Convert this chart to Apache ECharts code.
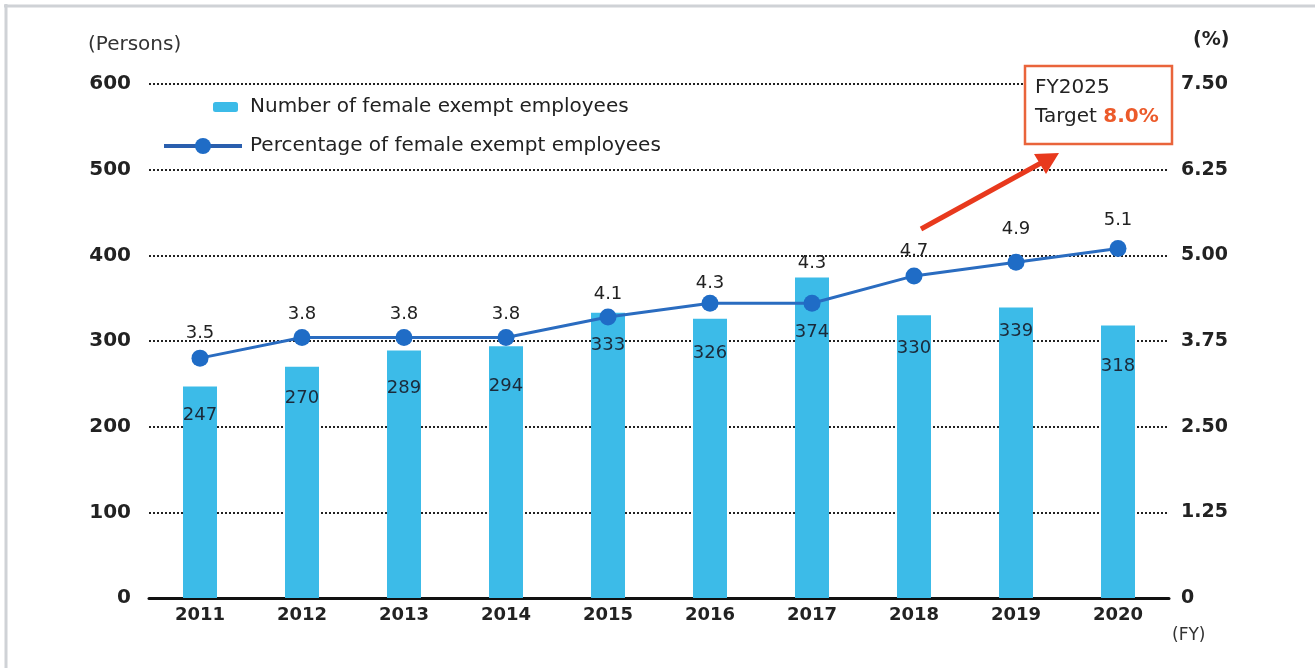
<!DOCTYPE html>
<html>
<head>
<meta charset="utf-8">
<script src="https://cdn.jsdelivr.net/npm/echarts@6/dist/echarts.min.js"></script>
<style>
  html, body { margin: 0; padding: 0; background: #fff; }
  #chart { width: 1315px; height: 668px; }
</style>
</head>
<body>
<div id="chart"></div>
<script>
var years = ["2011", "2012", "2013", "2014", "2015", "2016", "2017", "2018", "2019", "2020"];
var employees = [247, 270, 289, 294, 333, 326, 374, 330, 339, 318];
var percentage = [3.5, 3.8, 3.8, 3.8, 4.1, 4.3, 4.3, 4.7, 4.9, 5.1];
var personTicks = { min: 0, max: 600, interval: 100 };
var percentTicks = { min: 0, max: 7.5, interval: 1.25 };

// label nudges so numbers sit clear of the dotted lines (like the original)
var barLabelGap = [20, 23, 29, 31, 24, 26, 46, 24, 15, 32];
var lineLabelGap = [7, 6, 6, 6, 5, 2, 22, 7, 15, 11];

var FONT = "DejaVu Sans";
var barName = "Number of female exempt employees";
var lineName = "Percentage of female exempt employees";

var chart = echarts.init(document.getElementById("chart"));

var option = {
  backgroundColor: "#fff",
  animation: false,
  textStyle: { fontFamily: FONT },
  grid: { left: 149, right: 146, top: 84, bottom: 70 },
  legend: [
    {
      data: [barName],
      left: 213, top: 97, padding: 0,
      itemWidth: 25, itemHeight: 10,
      textStyle: { fontFamily: FONT, fontSize: 20, color: "#222", padding: [0, 0, 0, 7] }
    },
    {
      data: [lineName],
      left: 162, top: 136, padding: 0,
      itemWidth: 78, itemHeight: 20,
      lineStyle: { width: 4, color: "#2a5fae" },
      textStyle: { fontFamily: FONT, fontSize: 20, color: "#222", padding: [0, 0, 0, 3] }
    }
  ],
  xAxis: {
    type: "category",
    data: years,
    axisLine: { lineStyle: { color: "#111", width: 3 } },
    axisTick: { show: false },
    axisLabel: { fontFamily: FONT, fontWeight: "bold", fontSize: 18, color: "#222", margin: 8 }
  },
  yAxis: [
    {
      type: "value",
      min: personTicks.min, max: personTicks.max, interval: personTicks.interval,
      axisLine: { show: false },
      axisTick: { show: false },
      axisLabel: { fontFamily: FONT, fontWeight: "bold", fontSize: 20, color: "#222", margin: 18 },
      splitLine: { lineStyle: { color: "#222", width: 2, type: [2, 2] } }
    },
    {
      type: "value",
      min: percentTicks.min, max: percentTicks.max, interval: percentTicks.interval,
      axisLine: { show: false },
      axisTick: { show: false },
      splitLine: { show: false },
      axisLabel: {
        fontFamily: FONT, fontWeight: "bold", fontSize: 19, color: "#222", margin: 12,
        formatter: function (v) { return v === 0 ? "0" : v.toFixed(2); }
      }
    }
  ],
  series: [
    {
      name: barName,
      type: "bar",
      barWidth: 34,
      itemStyle: { color: "#3cbbe8" },
      data: employees.map(function (v, i) {
        return { value: v, label: { distance: barLabelGap[i] } };
      }),
      label: {
        show: true, position: "insideTop",
        fontFamily: FONT, fontSize: 18, color: "#1b2a3a"
      },
      z: 2
    },
    {
      name: lineName,
      type: "line",
      yAxisIndex: 1,
      symbol: "circle",
      symbolSize: 17,
      lineStyle: { color: "#2a6cc0", width: 3 },
      itemStyle: { color: "#1f6cc6" },
      data: percentage.map(function (v, i) {
        return { value: v, label: { distance: lineLabelGap[i] } };
      }),
      label: {
        show: true, position: "top",
        fontFamily: FONT, fontSize: 18, color: "#222",
        formatter: function (p) { return p.value.toFixed(1); }
      },
      z: 3
    }
  ],
  graphic: [
    // faint frame on top and left edge
    { type: "line", shape: { x1: 4, y1: 6, x2: 1315, y2: 6 }, style: { stroke: "#cfd2d6", lineWidth: 3 } },
    { type: "line", shape: { x1: 6, y1: 4, x2: 6, y2: 668 }, style: { stroke: "#cfd2d6", lineWidth: 3 } },
    // unit labels
    { type: "text", left: 88, top: 35, style: { text: "(Persons)", font: "20px " + FONT, fill: "#333" } },
    { type: "text", left: 1193, top: 31, style: { text: "(%)", font: "bold 19px " + FONT, fill: "#222" } },
    { type: "text", left: 1172, top: 627, style: { text: "(FY)", font: "17px " + FONT, fill: "#333" } },
    // target callout
    {
      type: "rect", z: 10,
      shape: { x: 1025, y: 66, width: 147, height: 78 },
      style: { fill: "#fff", stroke: "#e9643b", lineWidth: 2.5 }
    },
    { type: "text", z: 11, left: 1035, top: 78, style: { text: "FY2025", font: "20px " + FONT, fill: "#222" } },
    {
      type: "text", z: 11, left: 1035, top: 107,
      style: {
        text: "{a|Target }{b|8.0%}",
        rich: {
          a: { fontFamily: FONT, fontSize: 20, fill: "#222" },
          b: { fontFamily: FONT, fontSize: 20, fontWeight: "bold", fill: "#ec5a2a" }
        }
      }
    },
    // arrow pointing to the target
    {
      type: "line", z: 10,
      shape: { x1: 921, y1: 229, x2: 1041, y2: 163 },
      style: { stroke: "#e8391d", lineWidth: 5 }
    },
    {
      type: "polygon", z: 10,
      shape: { points: [[1059, 153], [1046, 174], [1034, 154]] },
      style: { fill: "#e8391d" }
    }
  ]
};

chart.setOption(option);
window.addEventListener("resize", function () { chart.resize(); });
</script>
</body>
</html>
